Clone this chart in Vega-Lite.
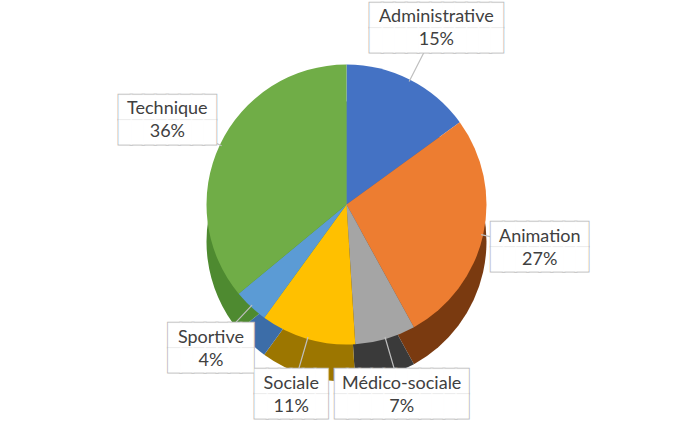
{
  "$schema": "https://vega.github.io/schema/vega-lite/v6.json",
  "width": 693,
  "height": 439,
  "autosize": {"type": "fit", "contains": "padding"},
  "background": "white",
  "config": {"view": {"stroke": null}},
  "data": {"values": [
    {"idx": 1, "label": "Administrative", "share": 0.15},
    {"idx": 2, "label": "Animation", "share": 0.27},
    {"idx": 3, "label": "Médico-sociale", "share": 0.07},
    {"idx": 4, "label": "Sociale", "share": 0.11},
    {"idx": 5, "label": "Sportive", "share": 0.04},
    {"idx": 6, "label": "Technique", "share": 0.36}
  ]},
  "transform": [
    {"calculate": "pad('', round(length(datum.label)*0.72+1.3), '█')", "as": "row"},
    {"calculate": "datum.row + '\\n' + datum.row", "as": "box"}
  ],
  "encoding": {
    "theta": {"field": "share", "type": "quantitative", "stack": true},
    "order": {"field": "idx", "type": "quantitative"}
  },
  "layer": [
    {
      "mark": {"type": "arc", "outerRadius": 140, "yOffset": 22},
      "encoding": {
        "color": {
          "field": "label", "type": "nominal", "legend": null,
          "scale": {
            "domain": ["Administrative", "Animation", "Médico-sociale", "Sociale", "Sportive", "Technique"],
            "range": ["#2F5597", "#7A3A10", "#3A3A3A", "#9C7600", "#3C6DA8", "#4E8A30"]
          }
        }
      }
    },
    {
      "mark": {"type": "arc", "outerRadius": 140, "yOffset": -15},
      "encoding": {
        "color": {
          "field": "label", "type": "nominal", "legend": null,
          "scale": {
            "domain": ["Administrative", "Animation", "Médico-sociale", "Sociale", "Sportive", "Technique"],
            "range": ["#4472C4", "#ED7D31", "#A5A5A5", "#FFC000", "#5B9BD5", "#70AD47"]
          }
        }
      }
    },
    {
      "mark": {"type": "arc", "innerRadius": 138, "outerRadius": 198, "yOffset": -15, "padAngle": 3.1416, "fillOpacity": 0, "stroke": "#bfbfbf", "strokeWidth": 1.2}
    },
    {
      "mark": {"type": "text", "radius": 198, "dy": -27.5, "font": "DejaVu Sans Mono", "fontSize": 20, "lineHeight": 25, "lineBreak": "\n", "fill": "white", "stroke": "#bfbfbf", "strokeWidth": 3},
      "encoding": {"text": {"field": "box"}}
    },
    {
      "mark": {"type": "text", "radius": 198, "dy": -27.5, "font": "DejaVu Sans Mono", "fontSize": 20, "lineHeight": 25, "lineBreak": "\n", "fill": "white", "stroke": "white", "strokeWidth": 1},
      "encoding": {"text": {"field": "box"}}
    },
    {
      "mark": {"type": "text", "radius": 198, "dy": -26, "font": "Lato", "fontSize": 18, "fill": "#404040"},
      "encoding": {"text": {"field": "label"}}
    },
    {
      "mark": {"type": "text", "radius": 198, "dy": -3, "font": "Lato", "fontSize": 18, "fill": "#404040"},
      "encoding": {"text": {"field": "share", "format": ".0%"}}
    }
  ],
  "resolve": {"scale": {"color": "independent"}}
}
